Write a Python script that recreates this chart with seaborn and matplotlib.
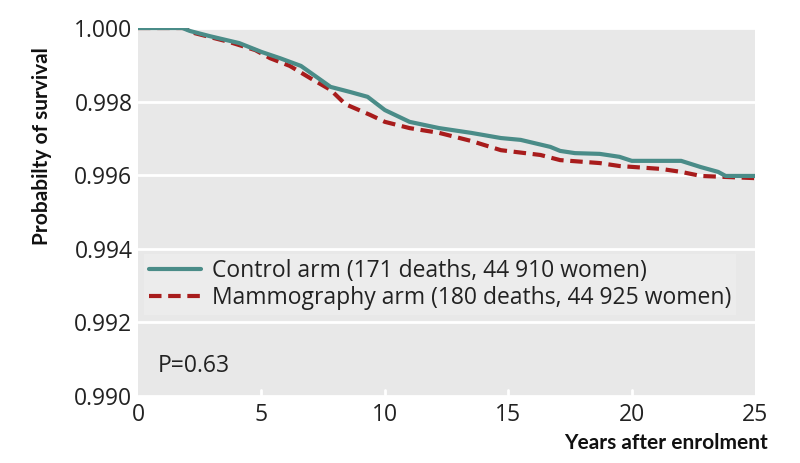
import matplotlib
matplotlib.use("Agg")
import matplotlib.pyplot as plt
import seaborn as sns
import pandas as pd

# Kaplan-Meier style survival curves
control_years = [0, 1.8, 2.1, 2.9, 4.1, 5.0, 5.75, 6.6, 7.4, 7.8, 8.6, 9.3, 10.0, 11.0, 12.2,
                 13.5, 14.7, 15.5, 16.7, 17.1, 17.7, 18.7, 19.5, 20.0, 22.0, 22.8, 23.5, 23.8, 25.0]
control_surv = [1.0, 1.0, 0.99992, 0.99978, 0.99959, 0.99935, 0.99918, 0.99897, 0.99859, 0.99840,
                0.99826, 0.99813, 0.99777, 0.99745, 0.99728, 0.99715, 0.99701, 0.99696, 0.99677,
                0.99666, 0.99660, 0.99658, 0.99650, 0.99639, 0.99639, 0.99622, 0.99609, 0.99598, 0.99598]

mammo_years = [0, 1.9, 2.3, 3.7, 4.75, 5.35, 6.15, 6.97, 7.8, 8.4, 9.4, 10.0, 11.0, 12.2, 13.5,
               14.7, 16.3, 17.1, 18.7, 19.5, 21.2, 22.0, 22.8, 25.0]
mammo_surv = [1.0, 1.0, 0.99986, 0.99962, 0.99940, 0.99918, 0.99897, 0.99864, 0.99832, 0.99793,
              0.99764, 0.99745, 0.99728, 0.99715, 0.99693, 0.99668, 0.99655, 0.99641, 0.99633,
              0.99625, 0.99617, 0.99609, 0.99598, 0.99592]

control_label = "Control arm (171 deaths, 44 910 women)"
mammo_label = "Mammography arm (180 deaths, 44 925 women)"
x_ticks = [0, 5, 10, 15, 20, 25]
y_ticks = [0.990, 0.992, 0.994, 0.996, 0.998, 1.000]
p_text = "P=0.63"

sns.set_theme(style="white")
plt.rcParams['font.family'] = ['Open Sans', 'DejaVu Sans']

fig = plt.figure(figsize=(8, 4.63), dpi=100)
ax = fig.add_axes([0.1725, 0.1447, 0.944 - 0.1725, 0.9395 - 0.1447])
ax.set_facecolor('#e8e8e8')

teal = '#4a8c88'
red = '#a81c1c'
txt = '#222222'
fs = 16.5

df_c = pd.DataFrame({'x': control_years, 'y': control_surv})
df_m = pd.DataFrame({'x': mammo_years, 'y': mammo_surv})

sns.lineplot(data=df_m, x='x', y='y', ax=ax, color=red, linewidth=3,
             linestyle=(0, (3, 1.6)), label=mammo_label, zorder=3)
sns.lineplot(data=df_c, x='x', y='y', ax=ax, color=teal, linewidth=3,
             label=control_label, zorder=4)

for yt in y_ticks:
    ax.axhline(yt, color='white', linewidth=2, zorder=1)

ax.set_xlim(0, 25)
ax.set_ylim(0.990, 1.000)
ax.set_xticks(x_ticks)
ax.set_yticks(y_ticks)
ax.set_yticklabels([f"{v:.3f}" for v in y_ticks])
ax.tick_params(axis='both', labelsize=fs, length=0, pad=4, colors=txt)
ax.tick_params(axis='x', pad=5)
for xt in x_ticks[1:-1]:
    ax.plot([xt, xt], [0.990, 0.99015], color='white', linewidth=2, zorder=2, clip_on=False)

for s in ax.spines.values():
    s.set_visible(False)

ax.set_xlabel("Years after enrolment", fontsize=15, fontweight='bold', color='#111111',
              family=['Lato', 'DejaVu Sans'])
ax.xaxis.set_label_coords(1.021, -0.1)
ax.xaxis.label.set_ha('right')
ax.set_ylabel("Probabilty of survival", fontsize=15, fontweight='bold', color='#111111',
              family=['Lato', 'DejaVu Sans'])
ax.yaxis.set_label_coords(-0.139, 0.68)

handles, labels = ax.get_legend_handles_labels()
order = [labels.index(control_label), labels.index(mammo_label)]
leg = ax.legend([handles[i] for i in order], [labels[i] for i in order],
                loc='upper left', bbox_to_anchor=(0.01, 0.385), borderaxespad=0,
                fontsize=fs, frameon=True, facecolor='#ececec', edgecolor='none',
                framealpha=1, handlelength=2.3, handletextpad=0.45, labelspacing=0.15,
                borderpad=0.2)
leg.get_frame().set_boxstyle('square', pad=0)
for t in leg.get_texts():
    t.set_color(txt)

ax.text(0.8, 0.9905, p_text, fontsize=fs, color=txt, ha='left', va='bottom')

fig.savefig("out.png", dpi=100)
